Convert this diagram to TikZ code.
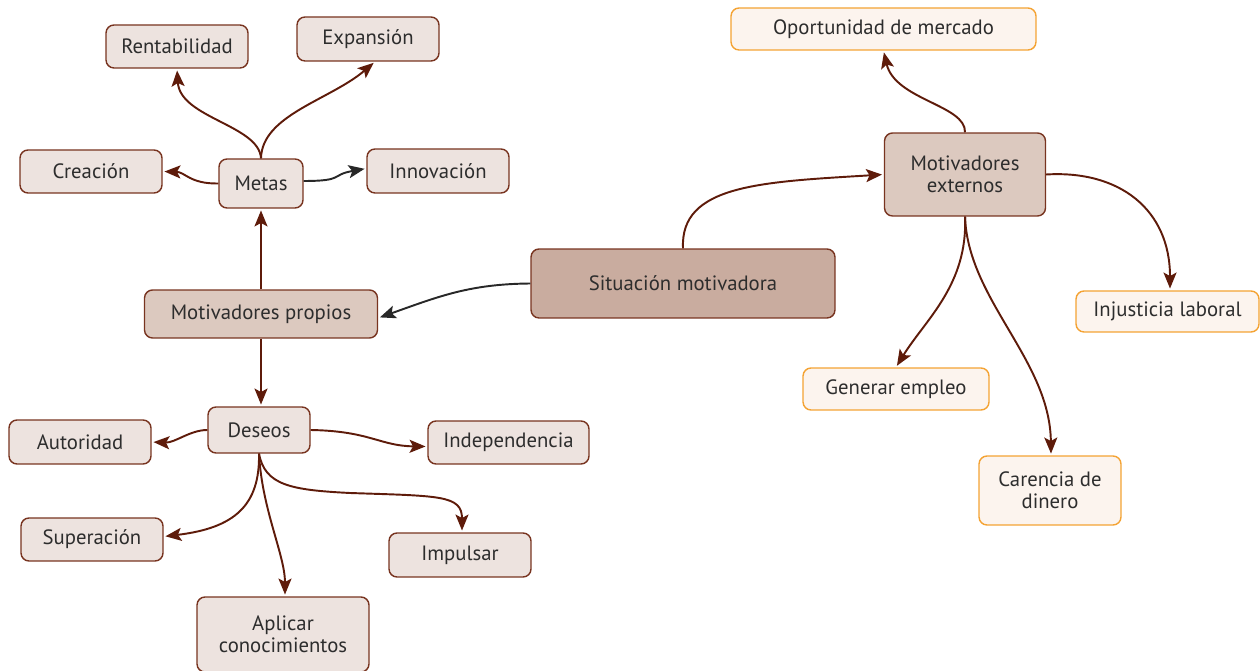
\documentclass[tikz,border=0pt]{standalone}
\usepackage{fontspec}
\setmainfont{PT Sans}
\usepackage{tikz}
\usetikzlibrary{arrows.meta}

\definecolor{linkbrown}{RGB}{94,27,10}
\definecolor{linkgray}{RGB}{40,40,40}
\definecolor{boxline}{RGB}{120,52,32}
\definecolor{boxfill}{RGB}{237,227,223}
\definecolor{midfill}{RGB}{220,201,191}
\definecolor{keyfill}{RGB}{201,172,159}
\definecolor{outline}{RGB}{244,163,52}
\definecolor{outfill}{RGB}{252,244,238}
\definecolor{txt}{RGB}{45,45,45}

\begin{document}
\begin{tikzpicture}[x=0.02cm, y=-0.02cm,
	box/.style={draw=boxline, fill=boxfill, rounded corners=0.16cm, line width=0.8pt,
		text=txt, align=center, inner sep=0pt, font=\fontsize{11.8}{12.8}\selectfont},
	midbox/.style={box, fill=midfill},
	keybox/.style={box, fill=keyfill},
	outbox/.style={box, draw=outline, fill=outfill},
	link/.style={-{Stealth[length=0.32cm, width=0.26cm, inset=0.07cm]}, line width=1.1pt,
		draw=linkbrown, shorten >=1pt},
	graylink/.style={link, draw=linkgray}]
	\useasboundingbox (0,0) rectangle (1260,671);

	% left side
	\node[box, minimum width=2.84cm, minimum height=0.86cm] (rent) at (177,46.5) {Rentabilidad};
	\node[box, minimum width=2.84cm, minimum height=0.88cm] (expan) at (368,39) {Expansión};
	\node[box, minimum width=2.84cm, minimum height=0.86cm] (crea) at (91,171.5) {Creación};
	\node[box, minimum width=1.68cm, minimum height=0.98cm] (metas) at (261,183.5) {Metas};
	\node[box, minimum width=2.84cm, minimum height=0.88cm] (innov) at (438,171) {Innovación};
	\node[midbox, minimum width=4.66cm, minimum height=0.96cm] (propios) at (261,314) {Motivadores propios};
	\node[box, minimum width=2.04cm, minimum height=0.92cm] (deseos) at (259,430) {Deseos};
	\node[box, minimum width=2.84cm, minimum height=0.88cm] (autor) at (80,442) {Autoridad};
	\node[box, minimum width=3.22cm, minimum height=0.86cm] (indep) at (508.5,442.5) {Independencia};
	\node[box, minimum width=2.84cm, minimum height=0.86cm] (super) at (92,539.5) {Superación};
	\node[box, minimum width=2.84cm, minimum height=0.88cm] (impul) at (460,555) {Impulsar};
	\node[box, minimum width=3.44cm, minimum height=1.5cm] (aplic) at (283,634.5) {Aplicar\\conocimientos};

	% centre and right side
	\node[keybox, minimum width=6.08cm, minimum height=1.38cm] (sit) at (683,283.5) {Situación motivadora};
	\node[midbox, minimum width=3.22cm, minimum height=1.66cm] (extern) at (965,174.5) {Motivadores\\externos};
	\node[outbox, minimum width=6.1cm, minimum height=0.84cm] (oport) at (883.5,29) {Oportunidad de mercado};
	\node[outbox, minimum width=3.66cm, minimum height=0.82cm] (injus) at (1167.5,311.5) {Injusticia laboral};
	\node[outbox, minimum width=3.72cm, minimum height=0.84cm] (empleo) at (896,389) {Generar empleo};
	\node[outbox, minimum width=2.84cm, minimum height=1.38cm] (caren) at (1050,490.5) {Carencia de\\dinero};

	% links
	\draw[graylink] (sit.west) .. controls (470,284) and (440,296) .. ([yshift=-0.08cm]propios.east);
	\draw[link] (sit.north) .. controls (680,185) and (760,182) .. (extern.west);
	\draw[link] (propios.north) -- (metas.south);
	\draw[link] (propios.south) -- (propios.south |- deseos.north);

	\draw[link] (metas.north) .. controls (259,125) and (180,118) .. (rent.south);
	\draw[link] (metas.north) .. controls (262,115) and (330,100) .. ([xshift=0.14cm]expan.south);
	\draw[link] (metas.west) .. controls (190,184) and (185,172) .. (crea.east);
	\draw[graylink] ([yshift=0.05cm]metas.east) .. controls (345,181) and (330,175) .. ([yshift=0.05cm]innov.west);

	\draw[link] (deseos.west) .. controls (190,430) and (175,443) .. (autor.east);
	\draw[link] (deseos.east) .. controls (370,431) and (380,446) .. ([yshift=-0.08cm]indep.west);
	\draw[link] (deseos.south) .. controls (260,505) and (235,528) .. ([yshift=0.06cm]super.east);
	\draw[link] (deseos.south) .. controls (262,510) and (285,555) .. ([xshift=0.04cm]aplic.north);
	\draw[link] (deseos.south) .. controls (265,485) and (290,490) .. (350,493)
		.. controls (440,496) and (462,495) .. ([xshift=0.04cm]impul.north);

	\draw[link] (extern.north) .. controls (966,105) and (895,100) .. (oport.south);
	\draw[link] (extern.east) .. controls (1120,170) and (1170,210) .. ([xshift=0.05cm]injus.north);
	\draw[link] (extern.south) .. controls (968,285) and (925,320) .. (empleo.north);
	\draw[link] (extern.south) .. controls (968,300) and (1050,360) .. ([xshift=0.02cm]caren.north);
\end{tikzpicture}
\end{document}
